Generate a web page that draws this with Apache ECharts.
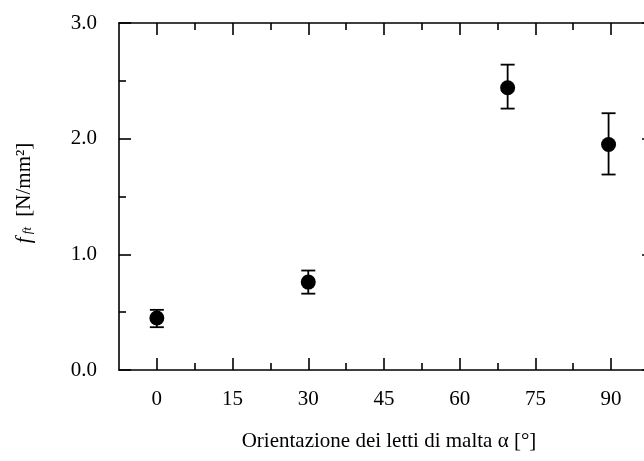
<!DOCTYPE html>
<html>
<head>
<meta charset="utf-8">
<script src="https://cdn.jsdelivr.net/npm/echarts@6/dist/echarts.min.js"></script>
<style>
html,body{margin:0;padding:0;background:#fff;}
#c{width:644px;height:461px;}
</style>
</head>
<body>
<div id="c"></div>
<script>
// Data
const xValues = [0, 30, 69.5, 89.5];
const yValues = [0.45, 0.76, 2.44, 1.95];
const errLow = [0.37, 0.66, 2.26, 1.69];
const errHigh = [0.52, 0.86, 2.64, 2.22];
const xTickLabels = [0, 15, 30, 45, 60, 75, 90];
const xMinorTicks = [7.5, 22.5, 37.5, 52.5, 67.5, 82.5, 97.5];
const yTickLabels = ['0.0', '1.0', '2.0', '3.0'];

const FONT = 'Liberation Serif';
const X_MIN = -7.5, X_MAX = 98.5;

const pointData = xValues.map((x, i) => [x, yValues[i]]);
const errData = xValues.map((x, i) => [x, errLow[i], errHigh[i]]);

function xAxisDef(position, customTicks, len, showLine, showLabel) {
  return {
    type: 'value', position: position, gridIndex: 0,
    min: X_MIN, max: X_MAX,
    axisLine: { show: showLine, onZero: false, lineStyle: { color: '#000', width: 1.6 } },
    axisTick: { show: true, inside: true, length: len, customValues: customTicks,
                lineStyle: { color: '#000', width: 1.6 } },
    axisLabel: showLabel ? { show: true, customValues: xTickLabels, margin: 19,
                fontFamily: FONT, fontSize: 21, color: '#000' } : { show: false },
    splitLine: { show: false }
  };
}
function yAxisDef(position, showLabel) {
  return {
    type: 'value', position: position, gridIndex: 0,
    min: 0, max: 3, interval: 1,
    axisLine: { show: true, onZero: false, lineStyle: { color: '#000', width: 1.6 } },
    axisTick: { show: true, inside: true, length: 12, lineStyle: { color: '#000', width: 1.6 } },
    minorTick: { show: true, splitNumber: 2, length: 7, lineStyle: { color: '#000', width: 1.6 } },
    axisLabel: showLabel ? { show: true, margin: 22, fontFamily: FONT, fontSize: 21, color: '#000',
                formatter: v => yTickLabels[Math.round(v)] } : { show: false },
    splitLine: { show: false }, minorSplitLine: { show: false }
  };
}

const chart = echarts.init(document.getElementById('c'), null, { renderer: 'canvas' });
chart.setOption({
  animation: false,
  backgroundColor: '#fff',
  grid: { left: 119, top: 23, width: 535, height: 347, containLabel: false, outerBoundsMode: 'none' },
  xAxis: [
    xAxisDef('bottom', xTickLabels, 12, true, true),
    xAxisDef('bottom', xMinorTicks, 7, false, false),
    xAxisDef('top', xTickLabels, 12, true, false),
    xAxisDef('top', xMinorTicks, 7, false, false)
  ],
  yAxis: [
    yAxisDef('left', true),
    yAxisDef('right', false)
  ],
  graphic: [
    {
      type: 'text', x: 389, y: 441,
      style: {
        text: 'Orientazione dei letti di malta α [°]',
        font: '21px "Liberation Serif"', fill: '#000', align: 'center', verticalAlign: 'middle'
      }
    },
    {
      type: 'text', x: 24, y: 193, rotation: Math.PI / 2,
      style: {
        text: '{i|f}{s| ft} [N/mm²]',
        font: '21px "Liberation Serif"', fill: '#000', align: 'center', verticalAlign: 'middle',
        rich: {
          i: { fontFamily: FONT, fontStyle: 'italic', fontSize: 21, fill: '#000' },
          s: { fontFamily: FONT, fontStyle: 'italic', fontSize: 13, fill: '#000', padding: [8, 5, 0, 0] }
        }
      }
    }
  ],
  series: [
    {
      type: 'custom', xAxisIndex: 0, yAxisIndex: 0,
      data: errData, encode: { x: 0, y: [1, 2] },
      renderItem: function (params, api) {
        const x = api.value(0), lo = api.value(1), hi = api.value(2);
        const pLo = api.coord([x, lo]), pHi = api.coord([x, hi]);
        const w = 7;
        const st = { stroke: '#000', lineWidth: 1.8 };
        return {
          type: 'group', children: [
            { type: 'line', shape: { x1: pLo[0], y1: pLo[1], x2: pHi[0], y2: pHi[1] }, style: st },
            { type: 'line', shape: { x1: pLo[0] - w, y1: pLo[1], x2: pLo[0] + w, y2: pLo[1] }, style: st },
            { type: 'line', shape: { x1: pHi[0] - w, y1: pHi[1], x2: pHi[0] + w, y2: pHi[1] }, style: st }
          ]
        };
      }
    },
    {
      type: 'scatter', xAxisIndex: 0, yAxisIndex: 0,
      data: pointData, symbol: 'circle', symbolSize: 15,
      itemStyle: { color: '#000', opacity: 1 }
    }
  ]
});
</script>
</body>
</html>
